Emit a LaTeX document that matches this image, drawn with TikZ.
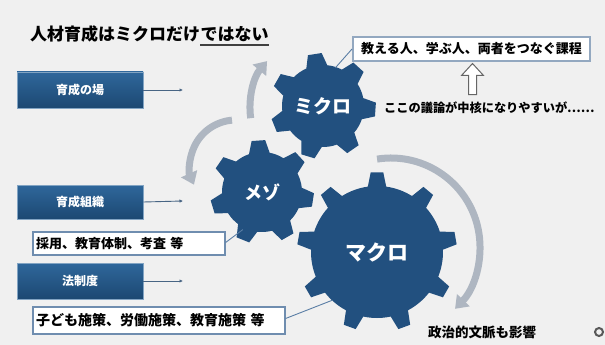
\documentclass[tikz,border=0pt]{standalone}
\usepackage{fontspec}
\setmainfont{Noto Sans CJK JP}
\usetikzlibrary{arrows.meta,calc}
\definecolor{bgc}{HTML}{F0F0F0}
\definecolor{gearblue}{HTML}{22507F}
\definecolor{boxtop}{HTML}{2F679B}
\definecolor{boxbot}{HTML}{1C4872}
\definecolor{arcgray}{HTML}{AEB6C1}
\definecolor{conn}{HTML}{5A7EA5}
\definecolor{wborder}{HTML}{6F8DAF}
\definecolor{tborder}{HTML}{93A8C0}
\newcommand{\gearpath}[8]{%
  \fill[gearblue, shift={(#1)}] ({#8-#6}:#4)
    \foreach \k [evaluate=\k as \a using #8+\k*360/#2] in {0,...,#3} {
      -- ({\a-#6}:#4) -- ({\a-#7}:#5) -- ({\a+#7}:#5) -- ({\a+#6}:#4)
      arc[start angle=\a+#6, end angle=\a+360/#2-#6, radius=#4]
    } -- cycle;
}
\tikzset{
  bluebox/.style={rectangle, minimum width=126pt, top color=boxtop, bottom color=boxbot,
    draw=boxtop!60!white, line width=0.6pt, text=white, inner sep=0pt,
    font=\bfseries\fontsize{12}{14}\selectfont},
  wbox/.style={rectangle, draw=wborder, line width=1.2pt, fill=white, inner xsep=3pt,
    inner ysep=0pt, align=left, text=black},
  smallarrow/.style={draw=conn!80!black, line width=0.9pt, -{Latex[length=3.5pt,width=3.5pt]}},
  connline/.style={draw=conn, line width=0.9pt},
  grayarc/.style={draw=arcgray, line width=7pt, -{Triangle[width=17pt,length=12pt]}},
  gearlabel/.style={circle, inner sep=0pt, text=white, font=\bfseries\fontsize{#1}{#1}\selectfont},
  plain/.style={inner sep=0pt, text=black}
}
\begin{document}
\begin{tikzpicture}[x=1pt,y=1pt]
\fill[bgc] (0,0) rectangle (605,-345);
\useasboundingbox (0,0) rectangle (605,-345);

% gray arcs
\coordinate (mikc) at (323,-106);
\coordinate (mesc) at (262,-192);
\coordinate (makc) at (377,-252);
\coordinate (arc1c) at (323,-108);
\coordinate (arc2c) at (236,-166);
\coordinate (arc3c) at (391,-247);
\draw[grayarc] ($(arc1c)+(188:73)$) arc[start angle=188, end angle=140, radius=73];
\draw[grayarc] ($(arc2c)+(95:46)$) arc[start angle=95, end angle=204, radius=46];
\draw[grayarc] ($(arc3c)+(99:89)$) arc[start angle=99, end angle=-44, radius=89];

% gears
\gearpath{mikc}{7}{6}{41}{53}{15}{7.5}{99}
\gearpath{mesc}{7}{6}{40}{52}{15}{7.5}{94}
\gearpath{makc}{9}{8}{66}{80}{8}{4.5}{90}

\node[gearlabel=19, minimum size=80pt] (mikuro) at (mikc) {ミクロ};
\node[gearlabel=18, minimum size=84pt] (meso) at (mesc) {メゾ};
\node[gearlabel=21, minimum size=132pt] (makuro) at (makc) {マクロ};

% title
\node[plain, anchor=base west, font=\bfseries\fontsize{17}{20}\selectfont] (t1) at (30,-41) {人材育成はミクロだけ};
\node[plain, anchor=base west, font=\bfseries\fontsize{17}{20}\selectfont] (t2) at (t1.base east) {ではない};
\draw[line width=1.6pt, black!75] ($(t2.base west)+(0,-4)$) -- ($(t2.base east)+(0,-4)$);

% left blue boxes
\node[bluebox, minimum height=36pt] (b1) at (80,-90) {育成の場};
\node[bluebox, minimum height=34pt] (b2) at (80,-202) {育成組織};
\node[bluebox, minimum height=36pt] (b3) at (80,-281) {法制度};
\coordinate (e1) at (183,-90);
\coordinate (e2) at (183,-201);
\coordinate (e3) at (183,-281);
\draw[smallarrow] (b1.east) -- (e1);
\draw[smallarrow] (b2.east) -- (e2);
\draw[smallarrow] (b3.east) -- (e3);

% white boxes
\node[wbox, minimum height=23pt, text width=186pt, font=\bfseries\fontsize{13}{15}\selectfont] (w1) at (129,-243.5) {採用、教育体制、考査 等};
\node[wbox, minimum height=27pt, text width=246pt, font=\bfseries\fontsize{14}{16}\selectfont] (w2) at (159,-320.5) {子ども施策、労働施策、教育施策 等};
\node[wbox, draw=tborder, line width=2pt, minimum height=24pt, minimum width=237pt, align=center, font=\bfseries\fontsize{13}{15}\selectfont] (w3) at (471.5,-49) {教える人、学ぶ人、両者をつなぐ課程};

\draw[connline] (w1.east) ++(0,1) -- (meso.243);
\draw[connline] (w2.east) ++(0,2) -- (makuro.227);
\draw[connline] (w3.west) -- (mikuro.72);

% hollow arrow
\draw[line width=1pt, draw=black!60, fill=white] ($(w3.south)+(1,-1.5)$) -- ++(11,-12) -- ++(-7,0) -- ++(0,-19) -- ++(-8,0) -- ++(0,19) -- ++(-7,0) -- cycle;

% texts
\node[plain, anchor=west, font=\bfseries\fontsize{12.2}{14}\selectfont] (q1) at (384,-108) {ここの議論が中核になりやすいが……};
\node[plain, anchor=west, font=\bfseries\fontsize{13.5}{15}\selectfont] (q2) at (428,-332) {政治的文脈も影響};
\node[circle, draw=black!65, line width=2pt, minimum size=8pt, inner sep=0pt] (ring) at (599,-332) {};
\end{tikzpicture}
\end{document}
